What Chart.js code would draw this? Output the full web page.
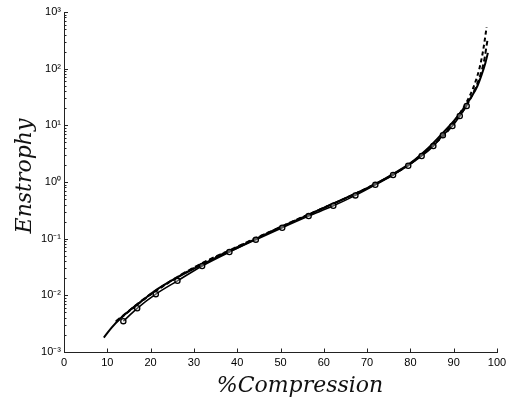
<!DOCTYPE html>
<html>
<head>
<meta charset="utf-8">
<script src="https://cdn.jsdelivr.net/npm/chart.js@4"></script>
<style>
  html, body { margin: 0; padding: 0; background: #fff; }
  #wrap { width: 511px; height: 402px; }
</style>
</head>
<body>
<div id="wrap"><canvas id="chart" width="511" height="402"></canvas></div>
<script>
// datos
const solidX = [9.2, 11, 13, 15, 18, 21, 25, 30, 35, 40, 45, 50, 55, 60, 65, 70, 75, 80, 84, 87, 90, 92, 94, 95.5, 96.5, 97.3, 97.9];
const solidY = [1.8e-3, 2.7e-3, 3.9e-3, 5.3e-3, 8.0e-3, 1.2e-2, 1.85e-2, 2.95e-2, 4.6e-2, 6.9e-2, 0.105, 0.158, 0.236, 0.35, 0.52, 0.78, 1.25, 2.15, 3.9, 6.7, 11.8, 18.5, 31, 50, 80, 125, 190];

const circleX = [13.7, 16.9, 21.2, 26.2, 31.9, 38.2, 44.3, 50.4, 56.5, 62.2, 67.3, 71.9, 76.0, 79.5, 82.6, 85.3, 87.5, 89.7, 91.4, 93.0];
const circleY = [3.5e-3, 5.9e-3, 1.05e-2, 1.8e-2, 3.3e-2, 5.8e-2, 9.6e-2, 0.156, 0.25, 0.38, 0.58, 0.89, 1.33, 1.94, 2.88, 4.3, 6.7, 9.7, 14.6, 22];

const dashAX = [12, 20, 30, 40, 50, 60, 70, 80, 85, 88, 90, 92, 94, 95, 96, 96.8, 97.6];
const dashAY = [3.4e-3, 1.03e-2, 3.05e-2, 7.1e-2, 0.16, 0.35, 0.78, 2.12, 4.4, 7.3, 11.5, 19, 37, 58, 105, 210, 540];

const dashBX = [12, 20, 30, 40, 50, 60, 70, 80, 85, 88, 90, 92, 94, 95, 96, 97, 97.8];
const dashBY = [3.5e-3, 1.05e-2, 3.1e-2, 7.2e-2, 0.161, 0.352, 0.78, 2.1, 4.3, 7.0, 10.8, 17.2, 31, 45, 71, 135, 320];

const xTicks = [0, 10, 20, 30, 40, 50, 60, 70, 80, 90, 100];
const yExponents = [-3, -2, -1, 0, 1, 2, 3];
const xTitle = '%Compression';
const yTitle = 'Enstrophy';

const sup = { '-': '\u207B', '0': '\u2070', '1': '\u00B9', '2': '\u00B2', '3': '\u00B3' };
const toSup = n => String(n).split('').map(c => sup[c]).join('');
const pts = (xs, ys) => xs.map((x, i) => ({ x, y: ys[i] }));

const AXIS = '#222';
const tickFont = { family: 'Liberation Sans, Arial, sans-serif', size: 11 };

// ticks hacia adentro + titulos de ejes
const axisDecor = {
    id: 'axisDecor',
    afterDraw(chart) {
        const { ctx, chartArea, scales: { x, y } } = chart;
        ctx.save();
        ctx.strokeStyle = AXIS;
        ctx.lineWidth = 1;
        ctx.beginPath();
        for (let i = 0; i < yExponents.length; i++) {
            const e = yExponents[i];
            const py = Math.round(y.getPixelForValue(Math.pow(10, e))) + 0.5;
            ctx.moveTo(chartArea.left, py);
            ctx.lineTo(chartArea.left + 4, py);
            if (i < yExponents.length - 1) {
                for (let m = 2; m < 10; m++) {
                    const pm = Math.round(y.getPixelForValue(m * Math.pow(10, e))) + 0.5;
                    ctx.moveTo(chartArea.left, pm);
                    ctx.lineTo(chartArea.left + 2.5, pm);
                }
            }
        }
        xTicks.forEach(v => {
            const px = Math.round(x.getPixelForValue(v)) + 0.5;
            ctx.moveTo(px, chartArea.bottom);
            ctx.lineTo(px, chartArea.bottom - 3.5);
        });
        ctx.stroke();

        ctx.fillStyle = '#111';
        ctx.font = 'italic 22px "DejaVu Serif", serif';
        ctx.textAlign = 'center';
        ctx.textBaseline = 'alphabetic';
        ctx.fillText(xTitle, 300, 392);

        ctx.translate(31, 176);
        ctx.rotate(-Math.PI / 2);
        ctx.fillText(yTitle, 0, 0);
        ctx.restore();
    }
};

const lineBase = {
    borderColor: '#000',
    backgroundColor: '#000',
    borderWidth: 2,
    pointRadius: 0,
    fill: false,
    cubicInterpolationMode: 'monotone'
};

new Chart(document.getElementById('chart'), {
    type: 'line',
    data: {
        datasets: [
            {
                ...lineBase,
                data: pts(circleX, circleY),
                borderWidth: 1.6,
                pointRadius: 2.6,
                pointBorderWidth: 1.3,
                pointBorderColor: '#000',
                pointBackgroundColor: 'rgba(255,255,255,0.35)'
            },
            { ...lineBase, data: pts(solidX, solidY) },
            { ...lineBase, data: pts(dashAX, dashAY), borderDash: [4, 3] },
            { ...lineBase, data: pts(dashBX, dashBY), borderDash: [5, 3] }
        ]
    },
    options: {
        responsive: false,
        animation: false,
        layout: { padding: { top: 12, right: 14, left: 0, bottom: 0 } },
        plugins: { legend: { display: false }, tooltip: { enabled: false } },
        scales: {
            x: {
                type: 'linear',
                min: 0,
                max: 100,
                afterBuildTicks: s => { s.ticks = xTicks.map(v => ({ value: v })); },
                afterFit: s => { s.height = 50; },
                grid: { display: false, drawTicks: false },
                border: { display: true, color: AXIS, width: 1 },
                ticks: { font: tickFont, color: '#000', padding: 4, maxRotation: 0 }
            },
            y: {
                type: 'logarithmic',
                min: 1e-3,
                max: 1e3,
                afterBuildTicks: s => { s.ticks = yExponents.map(e => ({ value: Math.pow(10, e) })); },
                afterFit: s => { s.width = 64; },
                grid: { display: false, drawTicks: false },
                border: { display: true, color: AXIS, width: 1 },
                ticks: {
                    font: tickFont,
                    color: '#000',
                    padding: 3,
                    callback: v => '10' + toSup(Math.round(Math.log10(v)))
                }
            }
        }
    },
    plugins: [axisDecor]
});
</script>
</body>
</html>
